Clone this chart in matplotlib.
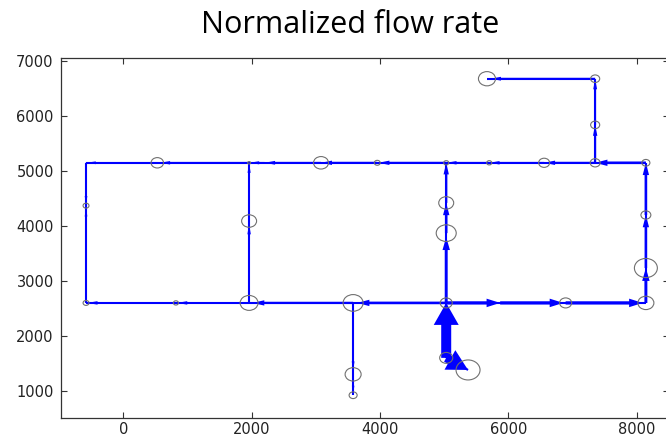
import numpy as np
import matplotlib
matplotlib.use('Agg')
import matplotlib.pyplot as plt
from matplotlib.patches import FancyArrowPatch, ArrowStyle
from matplotlib.path import Path

# network junctions: coordinates and normalized node value (circle size), nan = no circle
node_x = [-580, -580, -580, 820, 1960, 1960, 1960, 530, 2200, 3080, 3956, 5030, 5700,
          6555, 7350, 8140, 7350, 7350, 5665, 5030, 5030, 5030, 3580, 3580, 3580, 5030,
          5370, 5870, 6890, 8140, 8140, 8140]
node_y = [2600, 4370, 5150, 2600, 2600, 4090, 5150, 5150, 5150, 5150, 5150, 5150, 5150,
          5150, 5150, 5150, 5840, 6680, 6680, 4420, 3870, 2600, 2600, 1300, 920, 1600,
          1380, 2600, 2600, 2600, 3235, 4200]
node_val = [0.14, 0.14, np.nan, 0.10, 0.71, 0.57, 0.0, 0.45, np.nan, 0.57, 0.14, 0.10, 0.10,
            0.38, 0.33, 0.24, 0.29, 0.29, 0.67, 0.57, 0.81, 0.43, 0.81, 0.62, 0.24, 0.48,
            1.0, np.nan, 0.43, 0.62, 0.95, 0.33]

# pipes: start node, end node (flow direction) and normalized flow rate
pipe_from = [25, 25, 21, 27, 28, 21, 22, 4, 3, 0, 2, 7, 6, 8, 9, 10, 11, 12, 13, 14, 15,
             29, 30, 31, 21, 20, 19, 14, 16, 17, 4, 5, 22, 23]
pipe_to = [21, 26, 27, 28, 29, 22, 4, 3, 0, 1, 1, 2, 7, 6, 8, 9, 10, 11, 12, 13, 14,
           30, 31, 15, 20, 19, 11, 16, 17, 18, 5, 6, 23, 24]
pipe_flow = [1.0, 0.9, 0.35, 0.35, 0.35, 0.25, 0.2, 0.1, 0.1, 0.05, 0.05, 0.06, 0.1, 0.08,
             0.12, 0.15, 0.15, 0.1, 0.1, 0.15, 0.25, 0.3, 0.25, 0.25, 0.3, 0.25, 0.2, 0.15,
             0.12, 0.12, 0.1, 0.08, 0.06, 0.04]

PX = 0.72  # points per pixel at 100 dpi
blue = '#0000ff'

fig = plt.figure(figsize=(6.66, 4.4), dpi=100)
ax = fig.add_axes([0.0911, 0.0493, 0.9134, 0.818])
ax.set_xlim(-975, 8500)
ax.set_ylim(500, 7050)


def circle_px(v):
    return 3 + 21 * v


for a, b, q in zip(pipe_from, pipe_to, pipe_flow):
    x0, y0, x1, y1 = node_x[a], node_y[a], node_x[b], node_y[b]
    ax.plot([x0, x1], [y0, y1], color=blue, lw=1.5, zorder=2, solid_capstyle='butt')
    p0, p1 = ax.transData.transform([(x0, y0), (x1, y1)])
    length = np.hypot(*(p1 - p0))
    w_end = 0 if np.isnan(node_val[b]) else circle_px(node_val[b])
    shrink = 0.2 * w_end if length > 60 else 0
    hl = min(9 + 13 * q, 0.9 * (length - shrink))
    hw = 2 + 23 * q ** 1.2
    tw = 1.5 + 8.5 * q ** 1.5
    style = ArrowStyle.Simple(head_length=hl * PX, head_width=hw * PX, tail_width=tw * PX)
    ax.add_patch(FancyArrowPatch((x0, y0), (x1, y1), arrowstyle=style, mutation_scale=1,
                                 shrinkA=0, shrinkB=shrink * PX, color=blue, lw=0, zorder=3))

# slightly wide circles, as in the original picture
circ = Path.unit_circle()
ell = Path(circ.vertices * [1.2, 1.0], circ.codes)
vals = np.array(node_val)
keep = ~np.isnan(vals)
sizes = (circle_px(vals[keep]) * PX) ** 2
ax.scatter(np.array(node_x)[keep], np.array(node_y)[keep], s=sizes, marker=ell,
           facecolors='none', edgecolors='#707070', linewidths=0.8, zorder=4)

ax.set_xticks([0, 2000, 4000, 6000, 8000])
ax.set_yticks([1000, 2000, 3000, 4000, 5000, 6000, 7000])
ax.tick_params(direction='in', top=True, right=True, length=4, width=0.8, color='#333333',
               labelsize=10.5, labelcolor='#222222', pad=5)
ax.tick_params(axis='x', pad=3)
for s in ax.spines.values():
    s.set_color('#333333')
    s.set_linewidth(0.9)

fig.text(0.5255, 1 - 33 / 440, 'Normalized flow rate', ha='center', va='baseline',
         fontsize=22, family='Open Sans')

plt.savefig('out.png', dpi=100)
